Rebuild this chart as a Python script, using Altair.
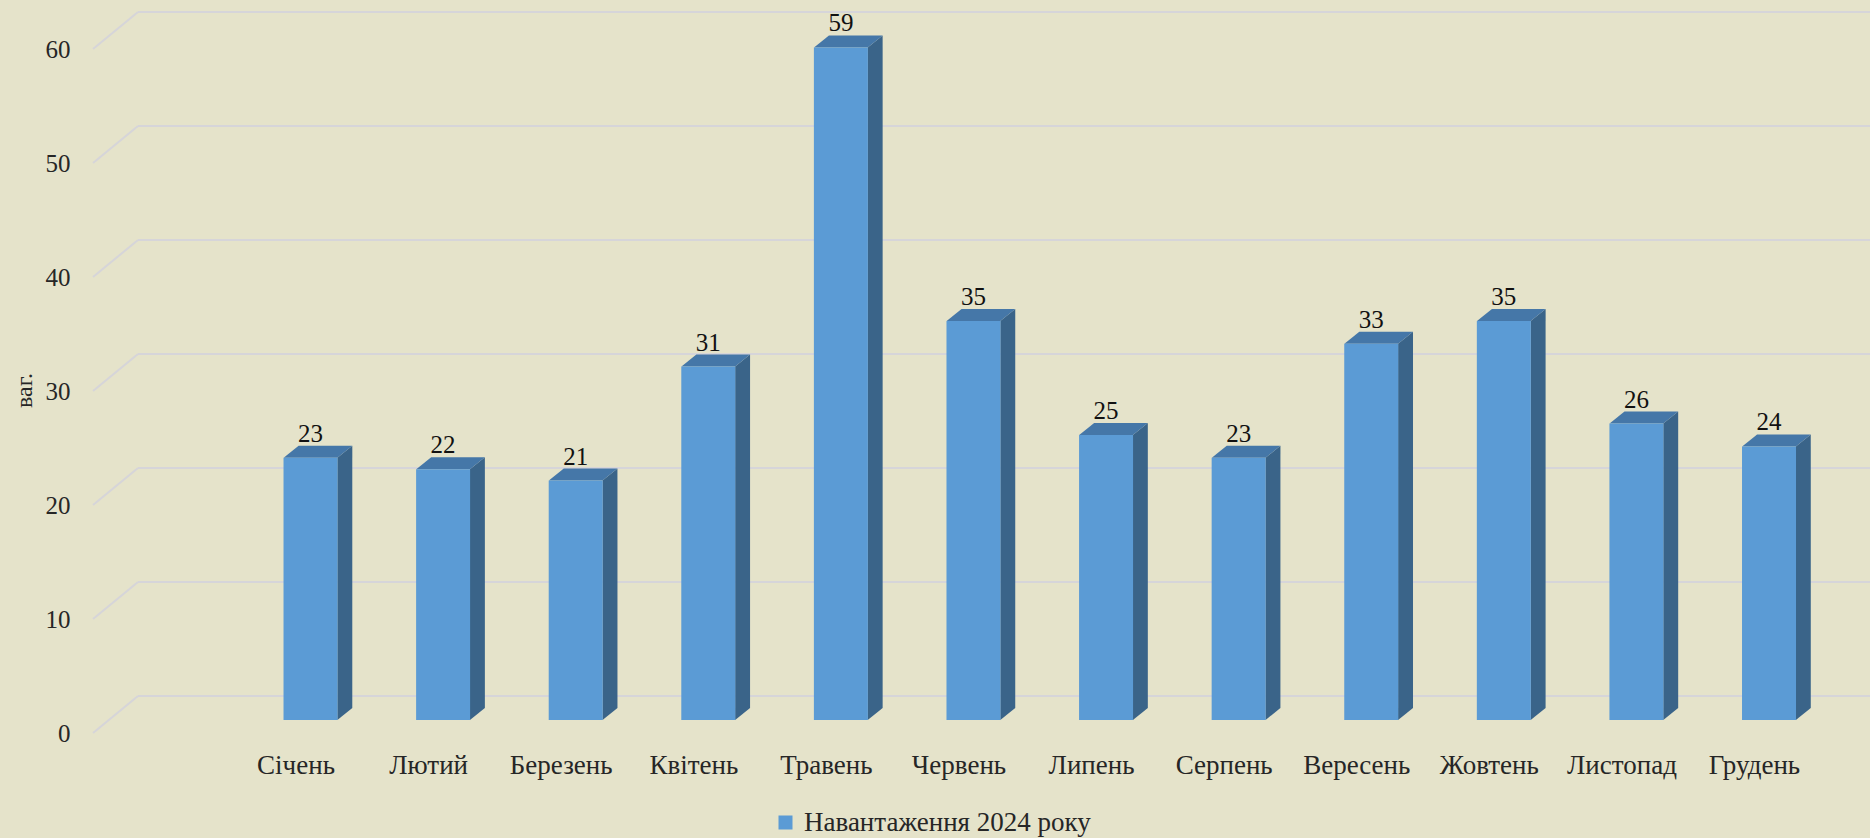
import altair as alt
import pandas as pd

# ---- chart data -------------------------------------------------------------
months = ["Січень", "Лютий", "Березень", "Квітень", "Травень", "Червень",
          "Липень", "Серпень", "Вересень", "Жовтень", "Листопад", "Грудень"]
loads = [23, 22, 21, 31, 59, 35, 25, 23, 33, 35, 26, 24]
grid_values = [0, 10, 20, 30, 40, 50, 60]
series_name = "Навантаження 2024 року"
axis_title = "ваг."

# ---- layout (pixels) --------------------------------------------------------
W, H = 1732, 684          # plot area (front plane of the bars)
PAD_L, PAD_T = 138, 36
PAD_R, PAD_B = 0, 118
STEP = 133.36             # distance between neighbouring bars
FIRST = 168.5             # first bar centre, measured from the plot's left edge
BAR_W = 54                # width of a bar's front face
DEPTH_X, DEPTH_Y = 15, 12 # oblique depth of each bar
WALL_UP = 24              # back wall sits this far above the bar plane
FLOOR_DOWN = 13           # front edge of the floor sits this far below it
WALL_DX = 45              # horizontal run of the floor diagonals
Y_MAX = 60

FONT = "Liberation Serif"
BG = "#e5e3ca"
FRONT = "#5b9bd5"
SIDE = "#3a6489"
TOP = "#4577a8"
GRID = "#d6d5d9"
TEXT = "#262626"

x_min = -FIRST / STEP
x_max = (W - FIRST) / STEP
px_per_unit = H / Y_MAX
hw = BAR_W / 2 / STEP
dxu = DEPTH_X / STEP
dyu = DEPTH_Y / px_per_unit

# ---- derived tables ---------------------------------------------------------
bars = pd.DataFrame({"i": range(len(months)), "month": months,
                     "v": loads, "series": series_name})
bars["label_y"] = bars["v"] + dyu

side_rows, top_rows = [], []
for i, v in enumerate(loads):
    side_rows.append({"g": i, "sx": i + hw, "lo": 0.0, "hi": v})
    side_rows.append({"g": i, "sx": i + hw + dxu, "lo": dyu, "hi": v + dyu})
    top_rows.append({"g": i, "ty": v, "xl": i - hw, "xr": i + hw})
    top_rows.append({"g": i, "ty": v + dyu, "xl": i - hw + dxu, "xr": i + hw + dxu})
side = pd.DataFrame(side_rows)
top = pd.DataFrame(top_rows)
grid = pd.DataFrame({"gv": grid_values})

xs = alt.Scale(domain=[x_min, x_max], nice=False, zero=False)
ys = alt.Scale(domain=[0, Y_MAX], nice=False, zero=False)

label_expr = "[" + ",".join(f"'{m}'" for m in months) + "][datum.value]"

x_axis = alt.Axis(values=list(range(len(months))), labelExpr=label_expr,
                  title=None, domain=False, ticks=False, grid=False,
                  labelFont=FONT, labelFontSize=27, labelColor=TEXT,
                  labelPadding=45, labelBaseline="middle", labelOffset=-15,
                  labelFlush=False, labelOverlap=False, labelBound=False)
y_axis = alt.Axis(values=grid_values, title=axis_title, domain=False,
                  ticks=False, grid=False, labelFont=FONT, labelFontSize=25,
                  labelColor=TEXT, labelPadding=68, labelOffset=13,
                  labelBaseline="middle",
                  titleFont=FONT, titleFontSize=24, titleFontWeight="normal",
                  titleColor=TEXT, titleAngle=270, titleAlign="center",
                  titleBaseline="middle", titleX=-114, titleY=354)

# back-wall gridlines
wall = alt.Chart(grid).mark_rule(color=GRID, strokeWidth=2, yOffset=-WALL_UP).encode(
    y=alt.Y("gv:Q", scale=ys, axis=y_axis),
    x=alt.value(0), x2=alt.value(W))
# floor diagonals joining the front edge to the back wall
diag = alt.Chart(grid).mark_rule(color=GRID, strokeWidth=2,
                                 yOffset=FLOOR_DOWN, y2Offset=-WALL_UP).encode(
    y=alt.Y("gv:Q", scale=ys, axis=y_axis), y2="gv:Q",
    x=alt.value(-WALL_DX), x2=alt.value(0))

side_faces = alt.Chart(side).mark_area(color=SIDE, opacity=1).encode(
    x=alt.X("sx:Q", scale=xs, axis=x_axis),
    y=alt.Y("lo:Q", scale=ys, axis=y_axis), y2="hi:Q",
    detail="g:N")
top_faces = alt.Chart(top).mark_area(color=TOP, orient="horizontal", opacity=1).encode(
    y=alt.Y("ty:Q", scale=ys, axis=y_axis),
    x=alt.X("xl:Q", scale=xs, axis=x_axis), x2="xr:Q",
    detail="g:N")
front = alt.Chart(bars).mark_bar(size=BAR_W, opacity=1).encode(
    x=alt.X("i:Q", scale=xs, axis=x_axis),
    y=alt.Y("v:Q", scale=ys, axis=y_axis),
    color=alt.Color("series:N", scale=alt.Scale(range=[FRONT]),
                    legend=alt.Legend(orient="none", legendX=634, legendY=773,
                                      direction="horizontal", title=None,
                                      symbolType="square", symbolSize=196,
                                      symbolStrokeWidth=0, symbolOpacity=1,
                                      labelFont=FONT, labelFontSize=27,
                                      labelLimit=0, labelColor=TEXT,
                                      labelOffset=5)))
labels = alt.Chart(bars).mark_text(font=FONT, fontSize=25, color="#111111",
                                   baseline="bottom", dy=1).encode(
    x=alt.X("i:Q", scale=xs, axis=x_axis),
    y=alt.Y("label_y:Q", scale=ys, axis=y_axis),
    text="v:Q")

chart = alt.layer(wall, diag, side_faces, top_faces, front, labels).properties(
    width=W, height=H,
    autosize=alt.AutoSizeParams(type="none"),
    padding={"left": PAD_L, "top": PAD_T, "right": PAD_R, "bottom": PAD_B},
    background=BG,
).configure_view(stroke=None)

chart.save("out.html", embed_options={"renderer": "svg", "actions": False})
